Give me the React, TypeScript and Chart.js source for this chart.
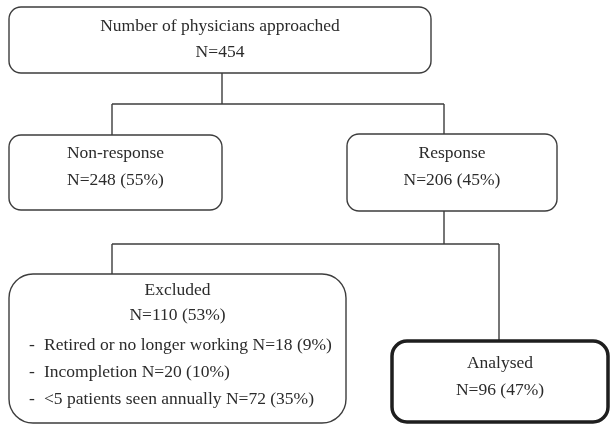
import React, { useEffect, useRef } from "react";
import { Chart, registerables } from "chart.js";

Chart.register(...registerables);

// ---- Data ----
const stageLabels = [
  "Number of physicians approached",
  "Non-response",
  "Response",
  "Excluded",
  "Analysed",
];
const stageCounts = [454, 248, 206, 110, 96];
const stagePercents: (number | null)[] = [null, 55, 45, 53, 47];
const exclusionReasons = [
  "Retired or no longer working",
  "Incompletion",
  "<5 patients seen annually",
];
const exclusionCounts = [18, 20, 72];
const exclusionPercents = [9, 10, 35];

// ---- Layout (data units of the hidden scales; kept apart from the values) ----
const W = 610;
const H = 425;
const boxX0 = [9, 9, 347, 9, 392];
const boxX1 = [431, 222, 557, 346, 608];
const boxY0 = [7, 135, 134, 274, 341];
const boxY1 = [73, 210, 211, 423, 422];
const boxRadius = [12, 12, 12, 24, 15];
const boxLineWidth = [1.4, 1.4, 1.4, 1.4, 3.5];
const boxAnchorX = [222, 112, 444, 112, 499];
const titleY = [26, 153, 153, 290, 363];
const countY = [52, 180, 180, 315, 390];
const listY = [345, 372, 399];
const listDashX = 29;
const listTextX = 44;
const branchY = [104, 244];
// parent -> children
const tree: [number, number[]][] = [
  [0, [1, 2]],
  [2, [3, 4]],
];

const INK = "#2b2b2b";
const LINE = "#3d3d3d";
const FONT = '17.5px "Liberation Serif", "Times New Roman", serif';

function countText(i: number) {
  const p = stagePercents[i];
  return p == null ? `N=${stageCounts[i]}` : `N=${stageCounts[i]} (${p}%)`;
}

function buildConnectors() {
  const sets: any[] = [];
  tree.forEach(([parent, kids], k) => {
    const by = branchY[k];
    const lineStyle = {
      showLine: true,
      borderColor: LINE,
      borderWidth: 1.4,
      pointRadius: 0,
      fill: false,
    };
    sets.push({
      ...lineStyle,
      data: [
        { x: boxAnchorX[parent], y: boxY1[parent] },
        { x: boxAnchorX[parent], y: by },
      ],
    });
    sets.push({
      ...lineStyle,
      data: [
        { x: boxAnchorX[kids[0]], y: by },
        { x: boxAnchorX[kids[kids.length - 1]], y: by },
      ],
    });
    kids.forEach((c) =>
      sets.push({
        ...lineStyle,
        data: [
          { x: boxAnchorX[c], y: by },
          { x: boxAnchorX[c], y: boxY0[c] },
        ],
      })
    );
  });
  return sets;
}

const boxesPlugin = {
  id: "flowBoxes",
  afterDatasetsDraw(chart: any) {
    const { ctx, scales } = chart;
    const xs = scales.x;
    const ys = scales.y;
    ctx.save();
    // boxes
    stageLabels.forEach((_, i) => {
      const x0 = xs.getPixelForValue(boxX0[i]);
      const x1 = xs.getPixelForValue(boxX1[i]);
      const y0 = ys.getPixelForValue(boxY0[i]);
      const y1 = ys.getPixelForValue(boxY1[i]);
      ctx.beginPath();
      ctx.roundRect(x0, y0, x1 - x0, y1 - y0, boxRadius[i]);
      ctx.fillStyle = "#ffffff";
      ctx.fill();
      ctx.lineWidth = boxLineWidth[i];
      ctx.strokeStyle = i === 4 ? "#1e1e1e" : LINE;
      ctx.stroke();
    });
    // text
    ctx.font = FONT;
    ctx.fillStyle = INK;
    ctx.textBaseline = "middle";
    ctx.textAlign = "center";
    stageLabels.forEach((label, i) => {
      const cx = xs.getPixelForValue((boxX0[i] + boxX1[i]) / 2);
      ctx.fillText(label, cx, ys.getPixelForValue(titleY[i]));
      ctx.fillText(countText(i), cx, ys.getPixelForValue(countY[i]));
    });
    ctx.textAlign = "left";
    exclusionReasons.forEach((r, j) => {
      const y = ys.getPixelForValue(listY[j]);
      ctx.fillText("-", xs.getPixelForValue(listDashX), y);
      ctx.fillText(
        `${r} N=${exclusionCounts[j]} (${exclusionPercents[j]}%)`,
        xs.getPixelForValue(listTextX),
        y
      );
    });
    ctx.restore();
  },
};

export default function App() {
  const ref = useRef<HTMLCanvasElement | null>(null);
  useEffect(() => {
    if (!ref.current) return;
    const chart = new Chart(ref.current, {
      type: "scatter",
      data: { datasets: buildConnectors() },
      options: {
        animation: false,
        responsive: false,
        devicePixelRatio: 1,
        events: [],
        layout: { padding: 0 },
        plugins: { legend: { display: false }, tooltip: { enabled: false } },
        scales: {
          x: { type: "linear", min: 0, max: W, display: false },
          y: { type: "linear", min: 0, max: H, reverse: true, display: false },
        },
      } as any,
      plugins: [boxesPlugin],
    });
    return () => chart.destroy();
  }, []);
  return (
    <div
      style={{
        position: "fixed",
        left: 0,
        top: 0,
        width: W,
        height: H,
        background: "#ffffff",
      }}
    >
      <canvas ref={ref} width={W} height={H} style={{ width: W, height: H }} />
    </div>
  );
}
